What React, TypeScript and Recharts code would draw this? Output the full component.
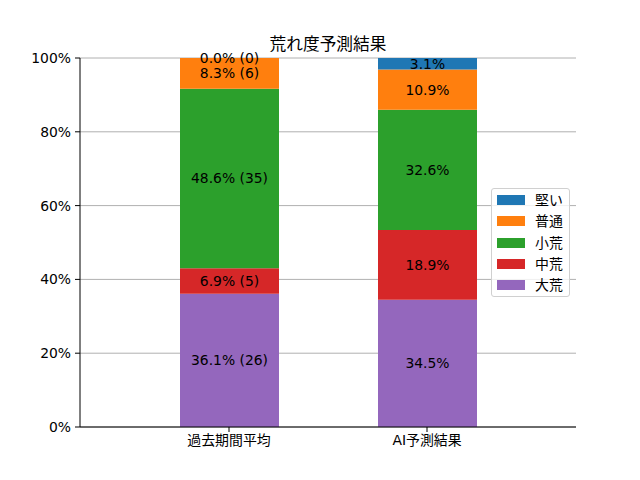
import React from 'react';
import { BarChart, Bar, XAxis, YAxis, CartesianGrid, LabelList } from 'recharts';

const categories = ['過去期間平均', 'AI予測結果'];
// stacking order, bottom to top
const seriesNames = ['大荒', '中荒', '小荒', '普通', '堅い'];
const seriesColors = ['#9467bd', '#d62728', '#2ca02c', '#ff7f0e', '#1f77b4'];

// past period: race counts per class
const pastCounts = [26, 5, 35, 6, 0];
// AI prediction: percentages per class
const aiPercents = [34.5, 18.9, 32.6, 10.9, 3.1];

const yTicks = [0, 20, 40, 60, 80, 100];

const FONT = '"DejaVu Sans", "Noto Sans CJK JP", sans-serif';
const FS = 13.9;

const pastTotal = pastCounts.reduce((a, b) => a + b, 0);
const pastPercents = pastCounts.map((c) => (c / pastTotal) * 100);

const valueOf = (ci: number, si: number) => (ci === 0 ? pastPercents[si] : aiPercents[si]);

const chartData = categories.map((name, ci) => {
  const row: Record<string, number | string> = { name };
  seriesNames.forEach((s, si) => {
    row[s] = valueOf(ci, si);
  });
  return row;
});

const labelText = (ci: number, si: number) =>
  ci === 0
    ? `${pastPercents[si].toFixed(1)}% (${pastCounts[si]})`
    : `${aiPercents[si].toFixed(1)}%`;

const Txt = ({ x, y, children }: { x: number; y: number; children: React.ReactNode }) => (
  <text
    x={x}
    y={y}
    textAnchor="middle"
    dominantBaseline="central"
    fontSize={FS}
    fontFamily={FONT}
    fill="#000"
  >
    {children}
  </text>
);

const makeLabel = (si: number) => (props: any) => {
  const { x, y, width, height, value } = props;
  const ci = categories.indexOf(String(value));
  const cx = Number(x) + Number(width) / 2;
  const top = Number(y);
  // a zero-height segment right above this one gets no rectangle, so its label goes at this top edge
  const next = si + 1;
  const zeroAbove = next < seriesNames.length && valueOf(ci, next) === 0;
  return (
    <g>
      <Txt x={cx} y={top + Number(height) / 2}>{labelText(ci, si)}</Txt>
      {zeroAbove && <Txt x={cx} y={top}>{labelText(ci, next)}</Txt>}
    </g>
  );
};

const App: React.FC = () => {
  const legendOrder = [...seriesNames.keys()].reverse();
  return (
    <div style={{ position: 'relative', width: 640, height: 480, fontFamily: FONT, background: '#fff' }}>
      <style>{'body{margin:0}'}</style>
      <div
        style={{
          position: 'absolute',
          left: 0,
          width: 656,
          top: 32,
          textAlign: 'center',
          fontSize: 16.7,
          lineHeight: '24px',
          color: '#000',
        }}
      >
        荒れ度予測結果
      </div>
      <BarChart
        width={640}
        height={480}
        data={chartData}
        margin={{ top: 58, right: 64, bottom: 23, left: 20 }}
      >
        <CartesianGrid vertical={false} stroke="#b0b0b0" strokeWidth={1} />
        <XAxis
          dataKey="name"
          height={30}
          padding={{ left: 50, right: 50 }}
          tickSize={5}
          tickMargin={3}
          stroke="#000"
          tick={{ fill: '#000', fontSize: FS, fontFamily: FONT }}
        />
        <XAxis
          xAxisId="top"
          dataKey="name"
          orientation="top"
          height={0}
          tick={false}
          tickLine={false}
          stroke="#000"
        />
        <YAxis
          width={60}
          domain={[0, 100]}
          ticks={yTicks}
          allowDataOverflow
          tickFormatter={(v) => `${v}%`}
          tickSize={5}
          tickMargin={4}
          stroke="#000"
          tick={{ fill: '#000', fontSize: FS, fontFamily: FONT }}
        />
        <YAxis
          yAxisId="right"
          orientation="right"
          width={0}
          domain={[0, 100]}
          tick={false}
          tickLine={false}
          stroke="#000"
        />
        {seriesNames.map((s, si) => (
          <Bar
            key={s}
            dataKey={s}
            stackId="a"
            fill={seriesColors[si]}
            barSize={99}
            isAnimationActive={false}
          >
            <LabelList dataKey="name" content={makeLabel(si)} />
          </Bar>
        ))}
      </BarChart>
      <div
        style={{
          position: 'absolute',
          left: 491,
          top: 188,
          width: 77,
          height: 107,
          border: '1px solid #d0d0d0',
          borderRadius: 3,
          background: 'rgba(255,255,255,0.8)',
          boxSizing: 'content-box',
        }}
      >
        {legendOrder.map((si, i) => (
          <div
            key={seriesNames[si]}
            style={{
              position: 'absolute',
              left: 5,
              top: 6 + i * 21.3,
              height: 10,
              display: 'flex',
              alignItems: 'center',
            }}
          >
            <div style={{ width: 28, height: 10, background: seriesColors[si] }} />
            <span style={{ marginLeft: 10, fontSize: FS, lineHeight: '10px', color: '#000' }}>
              {seriesNames[si]}
            </span>
          </div>
        ))}
      </div>
    </div>
  );
};

export default App;
